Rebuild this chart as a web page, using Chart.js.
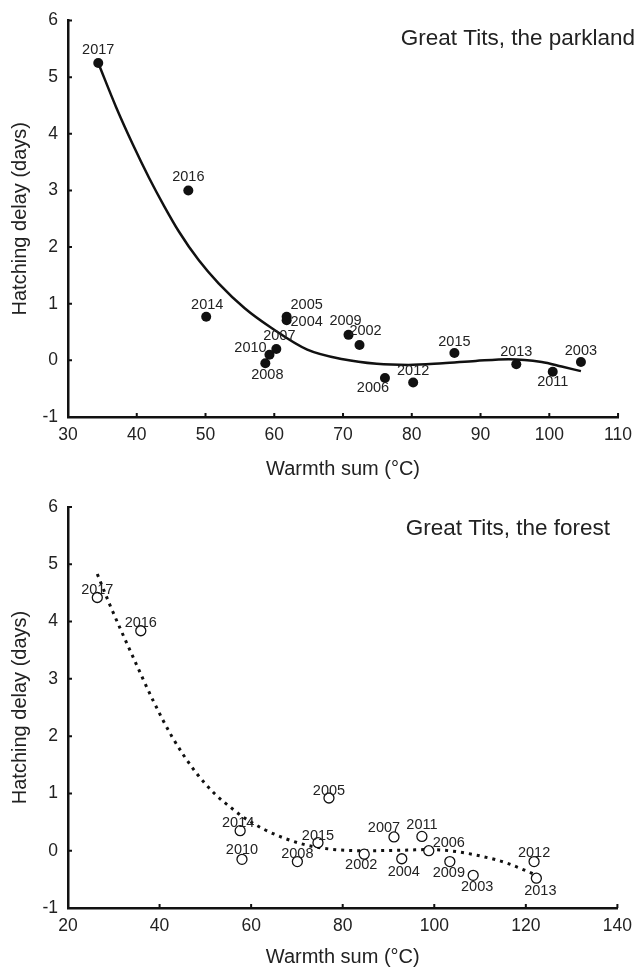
<!DOCTYPE html>
<html lang="en">
<head>
<meta charset="UTF-8">
<title>Hatching delay and warmth sum</title>
<style>
    html, body { margin: 0; padding: 0; background: #fff; }
    body { width: 640px; height: 967px; overflow: hidden; position: relative; }
    canvas { position: absolute; left: 0; }
    #parkChart { top: 0; }
    #forestChart { top: 485px; }
</style>
</head>
<body>
<canvas id="parkChart" width="640" height="485"></canvas>
<canvas id="forestChart" width="640" height="482"></canvas>

<script src="https://cdn.jsdelivr.net/npm/chart.js@4/dist/chart.umd.min.js"></script>
<script>
    // ---- data ----
    const delayTicks = [-1, 0, 1, 2, 3, 4, 5, 6];

    // parkland
    const parkYears  = [2017, 2016, 2014, 2005, 2004, 2009, 2002, 2007, 2010, 2008, 2006, 2012, 2015, 2013, 2011, 2003];
    const parkWarmth = [34.4, 47.5, 50.1, 61.8, 61.8, 70.8, 72.4, 60.3, 59.3, 58.7, 76.1, 80.2, 86.2, 95.2, 100.5, 104.6];
    const parkDelay  = [5.25, 3.0, 0.77, 0.77, 0.71, 0.45, 0.27, 0.20, 0.10, -0.05, -0.31, -0.39, 0.13, -0.07, -0.20, -0.03];
    const parkFitX   = [34.4, 37.0, 39.4, 41.8, 44.0, 46.1, 49.0, 51.9, 55.7, 59.5, 64.8, 70.0, 74.9, 79.5, 84.5, 89.3, 94.1, 98.9, 101.8, 104.6];
    const parkFitY   = [5.25, 4.47, 3.82, 3.22, 2.72, 2.28, 1.77, 1.36, 0.92, 0.58, 0.19, 0.02, -0.06, -0.08, -0.05, -0.01, 0.02, -0.03, -0.11, -0.19];
    const parkXTicks = [30, 40, 50, 60, 70, 80, 90, 100, 110];

    // forest
    const forestYears  = [2017, 2016, 2005, 2014, 2010, 2015, 2008, 2002, 2007, 2011, 2006, 2004, 2009, 2003, 2012, 2013];
    const forestWarmth = [26.4, 35.9, 77.0, 57.6, 58.0, 74.6, 70.1, 84.7, 91.2, 97.3, 98.8, 92.9, 103.4, 108.5, 121.8, 122.3];
    const forestDelay  = [4.42, 3.84, 0.92, 0.35, -0.15, 0.14, -0.19, -0.06, 0.24, 0.25, 0.0, -0.14, -0.19, -0.43, -0.19, -0.48];
    const forestFitX   = [26.4, 29.1, 34.1, 38.6, 42.8, 47.8, 52.1, 56.1, 58.2, 62.9, 67.2, 71.5, 76.0, 84.8, 93.6, 98.8, 105.2, 113.1, 116.0, 121.8];
    const forestFitY   = [4.83, 4.30, 3.40, 2.62, 1.98, 1.38, 0.99, 0.72, 0.59, 0.37, 0.22, 0.11, 0.04, 0.00, 0.01, 0.02, -0.02, -0.15, -0.22, -0.41];
    const forestXTicks = [20, 40, 60, 80, 100, 120, 140];

    // where each year label sits relative to its point (px)
    const parkLabelOffsets = [[0, -13], [0, -13], [1, -12], [20, -12], [20, 2], [-3, -14], [6, -14], [3, -13],
                              [-19, -7], [2, 12], [-12, 10], [0, -11], [0, -11], [0, -12], [0, 10], [0, -11]];
    const forestLabelOffsets = [[0, -8], [0, -8], [0, -7], [-2, -8], [0, -9], [0, -7], [0, -8], [-3, 11],
                                [-10, -9], [0, -11], [20, -8], [2, 13], [-1, 11], [4, 12], [0, -9], [4, 13]];

    Chart.defaults.font.family = "'Liberation Sans', Arial, sans-serif";
    Chart.defaults.color = '#222';

    function toPoints(xs, ys) {
        return xs.map((x, i) => ({ x: x, y: ys[i] }));
    }

    // short tick marks pointing into the plot
    const innerTicks = {
        id: 'innerTicks',
        afterDraw(chart) {
            const { ctx, chartArea, scales } = chart;
            ctx.save();
            ctx.strokeStyle = '#111';
            ctx.lineWidth = 2;
            ctx.beginPath();
            scales.x.ticks.forEach(t => {
                const px = scales.x.getPixelForValue(t.value);
                ctx.moveTo(px, chartArea.bottom);
                ctx.lineTo(px, chartArea.bottom - 4);
            });
            scales.y.ticks.forEach(t => {
                const py = scales.y.getPixelForValue(t.value);
                ctx.moveTo(chartArea.left, py);
                ctx.lineTo(chartArea.left + 4, py);
            });
            ctx.stroke();
            ctx.restore();
        }
    };

    // year next to every point + panel caption
    const yearLabels = {
        id: 'yearLabels',
        afterDatasetsDraw(chart, args, opts) {
            const ctx = chart.ctx;
            const meta = chart.getDatasetMeta(0);
            ctx.save();
            ctx.fillStyle = '#222';
            ctx.textAlign = 'center';
            ctx.textBaseline = 'middle';
            ctx.font = "14.5px 'Liberation Sans', Arial, sans-serif";
            meta.data.forEach((pt, i) => {
                const off = opts.offsets[i];
                ctx.fillText(String(opts.years[i]), pt.x + off[0], pt.y + off[1]);
            });
            ctx.textAlign = 'right';
            ctx.textBaseline = 'alphabetic';
            ctx.font = "22.5px 'Liberation Sans', Arial, sans-serif";
            ctx.fillText(opts.caption, opts.captionX, opts.captionY);
            ctx.restore();
        }
    };

    function makeChart(id, cfg) {
        return new Chart(document.getElementById(id), {
            type: 'scatter',
            data: {
                datasets: [{
                    label: 'points',
                    data: toPoints(cfg.warmth, cfg.delay),
                    pointRadius: 5,
                    pointHoverRadius: 5,
                    pointBackgroundColor: cfg.filled ? '#111' : '#fff',
                    pointBorderColor: '#111',
                    pointBorderWidth: cfg.filled ? 0 : 1.3,
                    showLine: false
                }, {
                    label: 'fit',
                    data: toPoints(cfg.fitX, cfg.fitY),
                    showLine: true,
                    pointRadius: 0,
                    borderColor: '#111',
                    borderWidth: cfg.lineWidth,
                    borderDash: cfg.dash,
                    cubicInterpolationMode: 'monotone',
                    fill: false
                }]
            },
            options: {
                responsive: false,
                animation: false,
                layout: { padding: { top: cfg.padTop, right: 16, left: 0, bottom: 0 } },
                plugins: {
                    legend: { display: false },
                    tooltip: { enabled: false },
                    yearLabels: {
                        years: cfg.years,
                        offsets: cfg.offsets,
                        caption: cfg.caption,
                        captionX: cfg.captionX,
                        captionY: cfg.captionY
                    }
                },
                scales: {
                    x: {
                        type: 'linear',
                        min: cfg.xTicks[0],
                        max: cfg.xTicks[cfg.xTicks.length - 1],
                        afterBuildTicks: (s) => { s.ticks = cfg.xTicks.map(v => ({ value: v })); },
                        afterFit: (s) => { s.height = cfg.xHeight; },
                        grid: { display: true, drawOnChartArea: false, drawTicks: false },
                        border: { display: true, color: '#111', width: 2.5 },
                        ticks: { font: { size: 17.5 }, padding: 8, color: '#222' },
                        title: {
                            display: true,
                            text: 'Warmth sum (°C)',
                            font: { size: 20, lineHeight: 1 },
                            color: '#222',
                            padding: { top: 0, bottom: cfg.xTitlePad }
                        }
                    },
                    y: {
                        type: 'linear',
                        min: -1,
                        max: 6,
                        afterBuildTicks: (s) => { s.ticks = delayTicks.map(v => ({ value: v })); },
                        afterFit: (s) => { s.width = 68; },
                        grid: { display: true, drawOnChartArea: false, drawTicks: false },
                        border: { display: true, color: '#111', width: 2.5 },
                        ticks: { font: { size: 17.5 }, padding: 10, color: '#222' },
                        title: {
                            display: true,
                            text: 'Hatching delay (days)',
                            font: { size: 20, lineHeight: 1 },
                            color: '#222',
                            padding: { top: 10, bottom: 0 }
                        }
                    }
                }
            },
            plugins: [innerTicks, yearLabels]
        });
    }

    makeChart('parkChart', {
        years: parkYears, warmth: parkWarmth, delay: parkDelay,
        fitX: parkFitX, fitY: parkFitY, xTicks: parkXTicks,
        offsets: parkLabelOffsets, filled: true, dash: [], lineWidth: 2.5,
        caption: 'Great Tits, the parkland', captionX: 635, captionY: 45,
        padTop: 15, xHeight: 68, xTitlePad: 6
    });

    makeChart('forestChart', {
        years: forestYears, warmth: forestWarmth, delay: forestDelay,
        fitX: forestFitX, fitY: forestFitY, xTicks: forestXTicks,
        offsets: forestLabelOffsets, filled: false, dash: [3, 5], lineWidth: 3,
        caption: 'Great Tits, the forest', captionX: 610, captionY: 50,
        padTop: 22, xHeight: 59, xTitlePad: 0
    });
</script>
</body>
</html>
